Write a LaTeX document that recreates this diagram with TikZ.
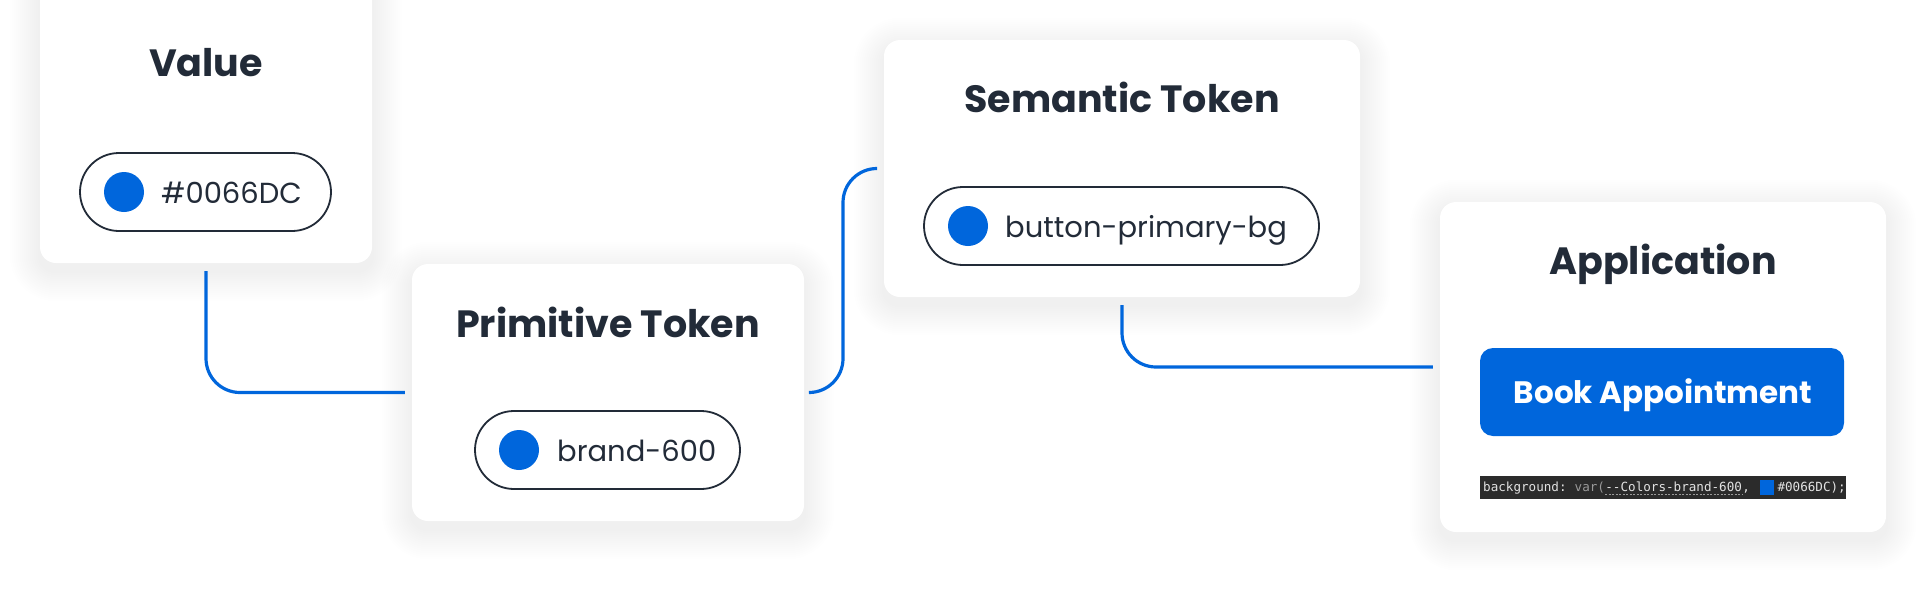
\documentclass[tikz,border=0pt]{standalone}
\usepackage{fontspec}
\setmainfont{Poppins}
\newfontfamily\codefont{DejaVu Sans Mono}
\pgfdeclarelayer{bottom}
\pgfdeclarelayer{shadow}
\pgfsetlayers{bottom,shadow,main}
\definecolor{ink}{HTML}{222B38}
\definecolor{brand}{HTML}{0066DC}
\definecolor{codebg}{HTML}{2B2B2B}
\definecolor{codefg}{HTML}{E2E2E2}
\definecolor{codegray}{HTML}{9A9A9A}
\tikzset{
  card/.style={fill=white, rounded corners=16pt, inner sep=0pt},
  cardtitle/.style={anchor=base, text=ink, font=\bfseries\fontsize{38}{42}\selectfont, inner sep=0pt},
  pill/.style={draw=ink, line width=1.8pt, rounded corners=39pt, minimum height=78pt, inner sep=0pt},
  swatch/.style={circle, fill=brand, minimum size=40pt, inner sep=0pt},
  pilltext/.style={anchor=base west, text=ink, font=\fontsize{29}{33}\selectfont, inner sep=0pt},
  conn/.style={draw=brand, line width=3.2pt, rounded corners=34pt},
  codetext/.style={anchor=base west, inner sep=0pt, font=\codefont\fontsize{12.6}{14}\selectfont},
}
\begin{document}
\begin{tikzpicture}[x=1pt,y=-1pt]
\useasboundingbox (0,0) rectangle (1926,600);
\begin{pgfonlayer}{bottom}
\fill[white] (0,0) rectangle (1926,600);
\end{pgfonlayer}

% cards
\node[card, minimum width=332pt, minimum height=283pt] (value) at (206,121.5) {};
\node[card, minimum width=392pt, minimum height=257pt] (prim) at (608,392.5) {};
\node[card, minimum width=476pt, minimum height=257pt] (sem) at (1122,168.5) {};
\node[card, minimum width=446pt, minimum height=330pt] (app) at (1663,367) {};

% shadows
\begin{pgfonlayer}{shadow}
\foreach \n in {value,prim,sem,app}{
  \foreach \i in {1,...,15}{
    \pgfmathsetmacro\rr{16+2*\i}
    \pgfmathsetmacro\up{2*\i-8}
    \pgfmathsetmacro\dn{-2*\i-8}
    \fill[black, opacity=0.004, rounded corners=\rr pt]
      ([xshift=-2*\i pt, yshift=\up pt]\n.north west) rectangle ([xshift=2*\i pt, yshift=\dn pt]\n.south east);
  }
}
\end{pgfonlayer}

% titles
\node[cardtitle] (valuetitle) at (206,76) {Value};
\node[cardtitle] (primtitle) at (608,337) {Primitive Token};
\node[cardtitle] (semtitle) at (1122,112) {Semantic Token};
\node[cardtitle] (apptitle) at (1663,274) {Application};

% pills
\node[pill, minimum width=251pt] (valuepill) at (205.5,192) {};
\node[swatch] (valuedot) at (124,192) {};
\node[pilltext] (valuetext) at (161,203) {\#0066DC};

\node[pill, minimum width=265pt] (primpill) at (607.5,450) {};
\node[swatch] (primdot) at (519,450) {};
\node[pilltext] (primtext) at (557,461) {brand-600};

\node[pill, minimum width=395pt] (sempill) at (1121.5,226) {};
\node[swatch] (semdot) at (968,226) {};
\node[pilltext] (semtext) at (1005,237) {button-primary-bg};

% application button
\node[fill=brand, rounded corners=13pt, minimum width=364pt, minimum height=88pt, inner sep=0pt] (button) at (1662,392) {};
\node[anchor=base, text=white, font=\bfseries\fontsize{31}{35}\selectfont, inner sep=0pt] (buttontext) at (1663,403) {Book Appointment};

% code line
\node[fill=codebg, minimum width=366pt, minimum height=23pt, inner sep=0pt] (codebar) at (1663,487.5) {};
\node[codetext, text=codefg] (code1) at (1483,491.5) {background:};
\node[codetext, text=codegray] (code2) at ([xshift=7.6pt]code1.base east) {var(};
\node[codetext, text=codefg] (code3) at (code2.base east) {--Colors-brand-600};
\draw[codegray, line width=0.6pt, dash pattern=on 2pt off 1.5pt] ([yshift=-3pt]code3.base west) -- ([yshift=-3pt]code3.base east);
\node[codetext, text=codefg] (code4) at (code3.base east) {,};
\node[fill=brand, minimum width=14pt, minimum height=15pt, inner sep=0pt] (codeswatch) at ([xshift=17pt, yshift=4pt]code4.base east) {};
\node[codetext, text=codefg] (code5) at ([xshift=3pt]codeswatch.east |- code4.base) {\#0066DC);};

% connectors
\coordinate (mid2) at (843,280);
\draw[conn] ([yshift=-8pt]value.south) |- ([xshift=-7pt]prim.west);
\draw[conn] ([xshift=7pt]prim.east) -| (mid2) |- ([xshift=-7pt]sem.west);
\draw[conn] ([yshift=-8pt]sem.south) |- ([xshift=-7pt]app.west);
\end{tikzpicture}
\end{document}
